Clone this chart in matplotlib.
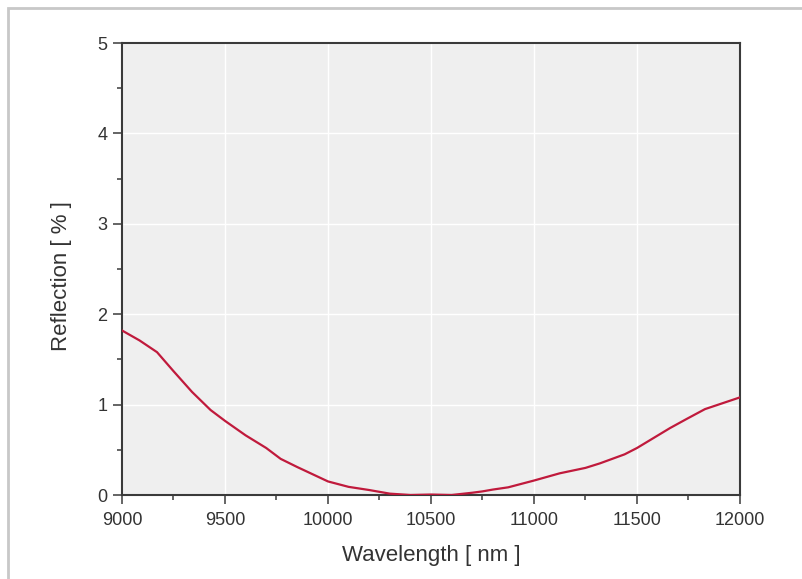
import matplotlib
matplotlib.use("Agg")
import matplotlib.pyplot as plt
from matplotlib.patches import Rectangle
from matplotlib.ticker import MultipleLocator

plt.rcParams['font.family'] = ['Liberation Sans', 'DejaVu Sans']

wavelength = [9000, 9085, 9170, 9250, 9340, 9430, 9500, 9600, 9700, 9770, 9850,
              10000, 10100, 10200, 10250, 10300, 10400, 10500, 10600, 10700, 10750,
              10800, 10875, 11000, 11125, 11250, 11320, 11440, 11500, 11580, 11660,
              11740, 11830, 12000]
reflection = [1.82, 1.71, 1.58, 1.37, 1.14, 0.94, 0.82, 0.66, 0.52, 0.40, 0.31,
              0.15, 0.09, 0.055, 0.035, 0.015, 0.0, 0.005, 0.0, 0.025, 0.04,
              0.06, 0.085, 0.16, 0.24, 0.30, 0.35, 0.45, 0.52, 0.63, 0.74,
              0.84, 0.95, 1.08]

x_ticks = [9000, 9500, 10000, 10500, 11000, 11500, 12000]
y_ticks = [0, 1, 2, 3, 4, 5]

fig = plt.figure(figsize=(8.03, 5.79), dpi=100)
fig.patches.append(Rectangle((8/803, -0.05), 1.1, (579-8)/579 + 0.05, transform=fig.transFigure,
                             fill=False, edgecolor='#c8c8c8', linewidth=2, zorder=0))

ax = fig.add_axes([122/803, 84/579, 618/803, 452/579])
ax.set_facecolor('#efefef')
ax.plot(wavelength, reflection, color='#c01a3c', linewidth=1.6, zorder=3)

ax.set_xlim(9000, 12000)
ax.set_ylim(0, 5)
ax.set_xticks(x_ticks)
ax.set_yticks(y_ticks)
ax.xaxis.set_minor_locator(MultipleLocator(250))
ax.yaxis.set_minor_locator(MultipleLocator(0.5))
ax.grid(True, which='major', color='white', linewidth=1.0, zorder=1)
ax.set_axisbelow(True)

for s in ax.spines.values():
    s.set_color('#3a3a3a')
    s.set_linewidth(1.5)

ax.tick_params(which='major', direction='out', length=6.5, width=1.1, color='#3a3a3a',
               labelsize=13, labelcolor='#333333')
ax.tick_params(axis='x', which='major', pad=6)
ax.tick_params(axis='y', which='major', pad=4)
ax.tick_params(which='minor', direction='out', length=3.5, width=1.1, color='#3a3a3a')

ax.set_xlabel('Wavelength [ nm ]', fontsize=16, color='#333333', labelpad=11)
ax.set_ylabel('Reflection [ % ]', fontsize=16, color='#333333')
ax.yaxis.set_label_coords(-0.081, 0.485)

fig.savefig('out.png', dpi=100)
